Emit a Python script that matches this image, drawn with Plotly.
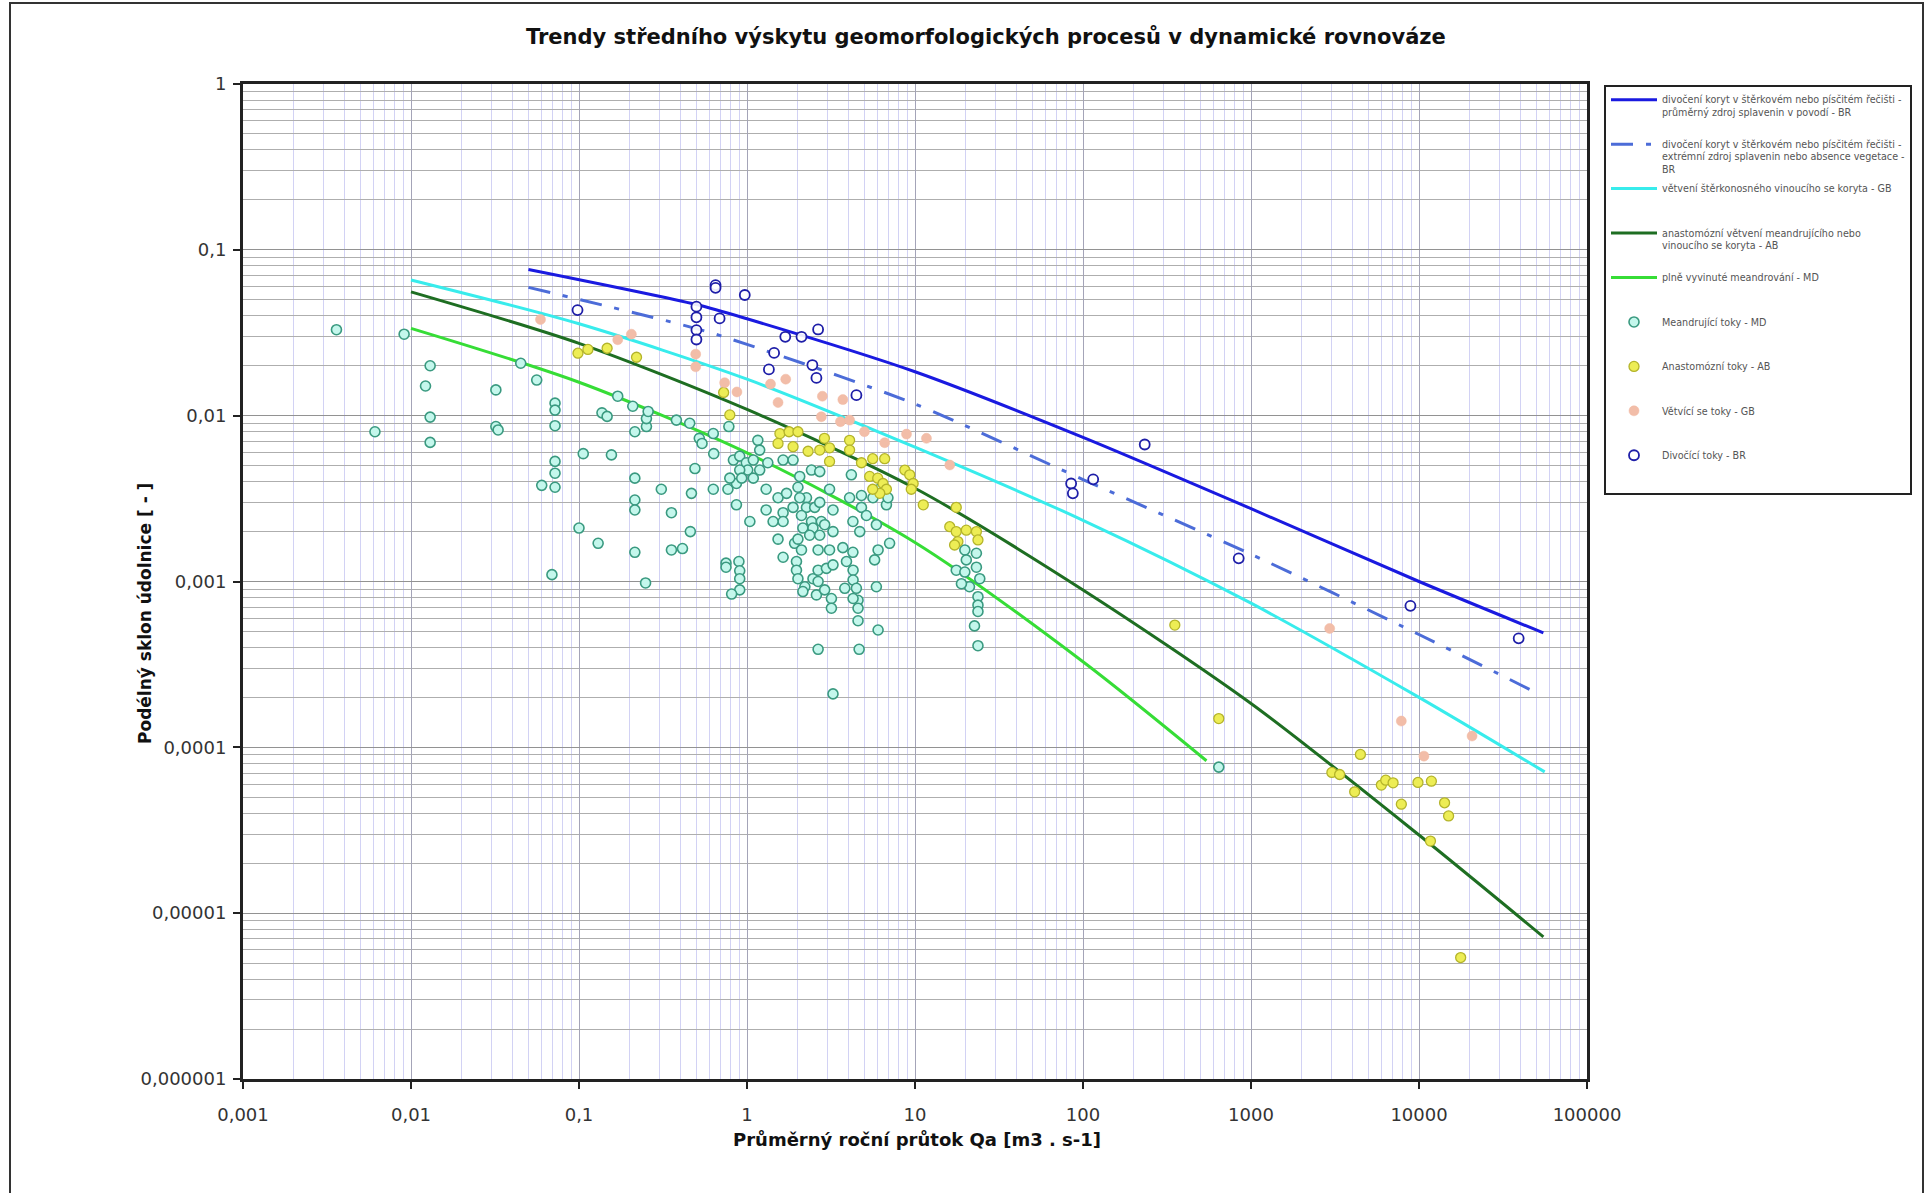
import plotly.graph_objects as go

# ---------------- data ----------------
# trend lines (Q [m3/s], S [-])
br_avg_q = [0.05, 0.5, 1, 10, 100, 1000, 10000, 55000]
br_avg_s = [0.0762, 0.0468, 0.0384, 0.0184, 0.0074, 0.00275, 0.0010, 0.00049]

br_ext_q = [0.05, 0.5, 1, 10, 100, 1000, 10000, 47000]
br_ext_s = [0.0594, 0.0335, 0.0269, 0.01175, 0.00412, 0.00146, 0.000479, 0.00022]

gb_q = [0.01, 0.1, 1, 10, 100, 1000, 10000, 56000]
gb_s = [0.0658, 0.0358, 0.0166, 0.00646, 0.00234, 0.00074, 0.00020, 0.0000711]

ab_q = [0.01, 0.1, 1, 10, 100, 1000, 10000, 55000]
ab_s = [0.0558, 0.0273, 0.0109, 0.00365, 0.00089, 0.000184, 0.0000296, 0.0000072]

md_q = [0.01, 0.1, 1, 10, 100, 543]
md_s = [0.0336, 0.0159, 0.00596, 0.00172, 0.000328, 0.000083]

# measured rivers
md_pts_q = [0.0036, 0.0091, 0.013, 0.0122, 0.013, 0.013, 0.0061, 0.032, 0.032, 0.033,
            0.045, 0.056, 0.072, 0.072, 0.072, 0.072, 0.072, 0.060, 0.072, 0.069,
            0.10, 0.13, 0.106, 0.156, 0.137, 0.147, 0.170, 0.209, 0.215, 0.215,
            0.215, 0.215, 0.215,
            0.38, 0.456, 0.52, 0.54, 0.63, 0.78, 0.634, 0.49, 0.467, 0.63,
            0.77, 0.865, 1.04, 0.46, 0.355, 0.413, 1.16, 1.19, 0.83, 0.905,
            0.99, 1.09, 1.19, 1.01, 0.905, 1.09, 0.865, 0.79, 0.93, 1.33,
            1.64, 1.88, 1.30, 1.53, 1.72, 1.88, 1.30, 1.64, 1.64, 1.43,
            1.53, 1.92, 1.64, 2.06, 2.42, 2.71, 2.01, 2.26, 2.06, 2.26,
            2.53, 2.71, 2.11, 2.42, 2.77, 2.15, 2.47, 2.9, 2.01, 2.36,
            2.71, 3.25, 3.1, 3.25, 4.08, 4.8, 4.8, 5.14, 4.27, 4.69,
            5.89, 6.76, 6.03, 7.06, 3.72, 4.27, 3.1, 2.65, 2.11, 0.252,
            0.252, 0.258, 0.309, 0.355, 4.18, 5.62, 6.3, 6.9,
            19.8, 23.2, 17.6, 19.8, 23.2, 24.3, 21.1, 18.9, 23.7, 23.7,
            23.7, 22.6, 23.7, 20.2, 0.75, 0.895, 0.905, 0.905, 0.905, 0.81,
            0.75, 1.97, 1.97, 2.01, 2.21, 2.15, 2.59, 2.47, 2.65, 2.9,
            3.18, 3.18, 2.65, 2.97, 3.25, 3.91, 4.28, 4.28, 3.82, 4.48,
            4.58, 4.58, 4.58, 4.28, 5.89, 6.03, 2.65, 4.65, 3.25, 5.75,
            0.249, 643]
md_pts_s = [0.033, 0.031, 0.020, 0.0151, 0.0098, 0.0069, 0.0080, 0.0143, 0.0086, 0.0082,
            0.0207, 0.0164, 0.0119, 0.0108, 0.0087, 0.0053, 0.0045, 0.0038, 0.0037, 0.0011,
            0.0021, 0.0017, 0.0059, 0.0058, 0.0104, 0.0099, 0.0131, 0.0114, 0.0080, 0.0042,
            0.0031, 0.0027, 0.0015,
            0.0094, 0.0090, 0.0073, 0.0068, 0.0078, 0.0086, 0.0059, 0.0048, 0.0034, 0.0036,
            0.0036, 0.0029, 0.0023, 0.0020, 0.00155, 0.00158, 0.0071, 0.0062, 0.0054, 0.0057,
            0.0052, 0.0054, 0.0047, 0.0047, 0.0047, 0.0042, 0.0039, 0.0042, 0.0042, 0.0052,
            0.0054, 0.0054, 0.0036, 0.0032, 0.0034, 0.0028, 0.0027, 0.0026, 0.0023, 0.0023,
            0.0018, 0.0017, 0.0014, 0.0043, 0.0047, 0.0046, 0.0037, 0.0032, 0.0032, 0.0028,
            0.0028, 0.0030, 0.0025, 0.0023, 0.0023, 0.0021, 0.0021, 0.0022, 0.0018, 0.0019,
            0.0019, 0.0020, 0.0036, 0.0027, 0.0032, 0.0033, 0.0028, 0.0025, 0.0023, 0.0020,
            0.0022, 0.0029, 0.00155, 0.0017, 0.0016, 0.0015, 0.00155, 0.00155, 0.00155, 0.0086,
            0.0096, 0.0106, 0.0036, 0.0026, 0.0044, 0.0032, 0.0037, 0.0032,
            0.00155, 0.00148, 0.00117, 0.00114, 0.00122, 0.00104, 0.00093, 0.00097, 0.00081, 0.00072,
            0.00066, 0.00054, 0.00041, 0.00135, 0.00129, 0.00132, 0.00116, 0.00104, 0.00089, 0.00084,
            0.00122, 0.00132, 0.00117, 0.00104, 0.00093, 0.00087, 0.00083, 0.00104, 0.00100, 0.00089,
            0.00079, 0.00069, 0.00117, 0.00120, 0.00126, 0.00132, 0.00117, 0.00102, 0.00091, 0.00091,
            0.00077, 0.00069, 0.00058, 0.00079, 0.00093, 0.00051, 0.00039, 0.00039, 0.00021, 0.00135,
            0.00098, 0.000076]

ab_pts_q = [0.0986, 0.113, 0.147, 0.22, 0.726, 0.79, 1.57, 1.78, 2.01, 1.53,
            1.88, 2.89, 3.1, 2.71, 2.31, 4.08, 4.08, 3.1, 4.8, 5.6,
            6.6, 5.37, 6.0, 6.45, 6.76, 6.17, 5.6, 8.7, 9.3, 9.75,
            9.5, 17.6, 11.2, 16.1, 17.6, 20.2, 23.2, 18.0, 23.7, 17.2,
            352, 643, 4480, 3030, 3370, 4140, 5970, 6340, 7010, 9860,
            11850, 7850, 14200, 15000, 11700, 17700]
ab_pts_s = [0.0238, 0.0251, 0.0255, 0.0225, 0.0138, 0.0101, 0.0078, 0.0080, 0.0080, 0.0068,
            0.0065, 0.0073, 0.0064, 0.0062, 0.0061, 0.0071, 0.0062, 0.0053, 0.0052, 0.0055,
            0.0055, 0.0043, 0.0042, 0.0039, 0.0036, 0.0034, 0.0036, 0.0047, 0.0044, 0.0039,
            0.0036, 0.0028, 0.0029, 0.00214, 0.0020, 0.00204, 0.0020, 0.00174, 0.00178, 0.00166,
            0.000546, 0.000149, 0.0000906, 0.0000706, 0.0000686, 0.0000539, 0.0000592, 0.0000634, 0.0000611, 0.0000614,
            0.0000625, 0.0000454, 0.0000463, 0.0000386, 0.0000272, 0.0000054]

gb_pts_q = [0.059, 0.17, 0.205, 0.495, 0.495, 0.736, 0.871, 1.38, 1.70, 1.53,
            2.81, 3.72, 2.77, 3.6, 4.08, 5.0, 6.6, 8.9, 11.7, 16.1,
            2940, 7850, 20700, 10700]
gb_pts_s = [0.038, 0.0287, 0.031, 0.0235, 0.0197, 0.0158, 0.0139, 0.0155, 0.0166, 0.0120,
            0.0131, 0.0125, 0.00985, 0.0092, 0.0094, 0.0080, 0.00687, 0.00774, 0.0073, 0.00504,
            0.000521, 0.000144, 0.000117, 0.0000885]

br_pts_q = [0.098, 0.65, 0.65, 0.97, 0.50, 0.50, 0.50, 0.50, 0.687, 1.69,
            2.11, 2.65, 1.45, 1.35, 2.45, 2.59, 4.48, 85, 87, 115,
            233, 845, 8890, 39200]
br_pts_s = [0.0433, 0.0613, 0.059, 0.0534, 0.0454, 0.0392, 0.0328, 0.0288, 0.0386, 0.0299,
            0.0299, 0.0331, 0.0239, 0.0190, 0.0202, 0.0169, 0.0133, 0.0039, 0.0034, 0.00413,
            0.0067, 0.00138, 0.000713, 0.000454]

x_tick_vals = [0.001, 0.01, 0.1, 1, 10, 100, 1000, 10000, 100000]
x_tick_text = ["0,001", "0,01", "0,1", "1", "10", "100", "1000", "10000", "100000"]
y_tick_vals = [1, 0.1, 0.01, 0.001, 0.0001, 0.00001, 0.000001]
y_tick_text = ["1", "0,1", "0,01", "0,001", "0,0001", "0,00001", "0,000001"]

names = [
    "divočení koryt v štěrkovém nebo písčitém řečišti -<br>průměrný zdroj splavenin v povodí - BR<br> ",
    "divočení koryt v štěrkovém nebo písčitém řečišti -<br>extrémní zdroj splavenin nebo absence vegetace -<br>BR",
    "větvení štěrkonosného vinoucího se koryta - GB<br> <br> ",
    "anastomózní větvení meandrujícího nebo<br>vinoucího se koryta - AB<br> ",
    "plně vyvinuté meandrování - MD<br> <br> ",
    "Meandrující toky - MD<br> <br> ",
    "Anastomózní toky - AB<br> <br> ",
    "Větvící se toky - GB<br> <br> ",
    "Divočící toky - BR<br> <br> ",
]

# ---------------- figure ----------------
fig = go.Figure()

lines = [
    (br_avg_q, br_avg_s, "#1A1AE0", "solid"),
    (br_ext_q, br_ext_s, "#4C6CD8", "22px,13px,5px,13px"),
    (gb_q, gb_s, "#38ECEC", "solid"),
    (ab_q, ab_s, "#1E6E22", "solid"),
    (md_q, md_s, "#36DD36", "solid"),
]
for i, (q, s, c, d) in enumerate(lines):
    fig.add_trace(go.Scatter(x=q, y=s, mode="lines", name=names[i], legendgroup=f"g{i}",
                             line=dict(color=c, width=3, dash=d, shape="spline", smoothing=0.8)))

fig.add_trace(go.Scatter(x=md_pts_q, y=md_pts_s, mode="markers", name=names[5], legendgroup="g5",
                         marker=dict(symbol="circle", size=10, color="#C4F7EC",
                                     line=dict(color="#3A9A80", width=1.6))))
fig.add_trace(go.Scatter(x=ab_pts_q, y=ab_pts_s, mode="markers", name=names[6], legendgroup="g6",
                         marker=dict(symbol="circle", size=10, color="#EDED55",
                                     line=dict(color="#B4B42A", width=1.3))))
fig.add_trace(go.Scatter(x=gb_pts_q, y=gb_pts_s, mode="markers", name=names[7], legendgroup="g7",
                         marker=dict(symbol="circle", size=10, color="#F2BDA8",
                                     line=dict(color="#F0B8A2", width=0.5))))
fig.add_trace(go.Scatter(x=br_pts_q, y=br_pts_s, mode="markers", name=names[8], legendgroup="g8",
                         marker=dict(symbol="circle", size=10, color="rgba(255,255,255,0.9)",
                                     line=dict(color="#1E1EA8", width=1.8))))

x_minor = [m * 10 ** e for e in range(-3, 5) for m in range(2, 10)]
y_minor = [m * 10 ** e for e in range(-6, 0) for m in range(2, 10)]

tick_font = dict(family="DejaVu Sans", size=18, color="#333333")

fig.update_xaxes(type="log", range=[-3, 5], tickmode="array", tickvals=x_tick_vals,
                 ticktext=x_tick_text, showgrid=True, gridcolor="#A4A4B8", gridwidth=1,
                 minor=dict(tickmode="array", tickvals=x_minor, showgrid=True,
                            gridcolor="#D2D2F4", gridwidth=1, ticks=""),
                 showline=True, linecolor="#222222", linewidth=3, mirror=True,
                 ticks="outside", ticklen=7, tickwidth=1.5, tickcolor="#222222",
                 tickfont=tick_font, ticklabelstandoff=10, zeroline=False)
fig.update_yaxes(type="log", range=[-6, 0], tickmode="array", tickvals=y_tick_vals,
                 ticktext=y_tick_text, showgrid=True, gridcolor="#929292", gridwidth=1,
                 minor=dict(tickmode="array", tickvals=y_minor, showgrid=True,
                            gridcolor="#AEAEAE", gridwidth=1, ticks=""),
                 showline=True, linecolor="#222222", linewidth=3, mirror=True,
                 ticks="outside", ticklen=7, tickwidth=1.5, tickcolor="#222222",
                 tickfont=tick_font, ticklabelstandoff=3, zeroline=False)

L, R, T, B = 243, 340, 84, 114
W, H = 1927, 1193
pw, ph = W - L - R, H - T - B


def px(xp):
    return (xp - L) / pw


def py(yp):
    return (H - B - yp) / ph


fig.update_layout(
    width=W, height=H, autosize=False,
    margin=dict(l=L, r=R, t=T, b=B, pad=0, autoexpand=False),
    paper_bgcolor="white", plot_bgcolor="white",
    font=dict(family="Liberation Sans", color="#222222"),
    showlegend=True,
    legend=dict(x=px(1604), y=py(85), xanchor="left", yanchor="top",
                bordercolor="#222222", borderwidth=2, bgcolor="white",
                font=dict(family="DejaVu Sans", size=9.6, color="#555555"),
                itemwidth=46, valign="top", tracegroupgap=4, traceorder="grouped"),
    annotations=[
        dict(text="<b>Trendy středního výskytu geomorfologických procesů v dynamické rovnováze</b>",
             x=px(986), y=py(37), xref="paper", yref="paper", showarrow=False,
             xanchor="center", yanchor="middle",
             font=dict(family="DejaVu Sans", size=21, color="#111111")),
        dict(text="<b>Podélný sklon údolnice [ - ]</b>", textangle=-90,
             x=px(145), y=py(614), xref="paper", yref="paper", showarrow=False,
             xanchor="center", yanchor="middle",
             font=dict(family="DejaVu Sans", size=17, color="#111111")),
        dict(text="<b>Průměrný roční průtok Qa [m3 . s-1]</b>",
             x=px(917), y=py(1139), xref="paper", yref="paper", showarrow=False,
             xanchor="center", yanchor="middle",
             font=dict(family="DejaVu Sans", size=18, color="#111111")),
    ],
    shapes=[
        dict(type="rect", xref="paper", yref="paper", x0=px(10), x1=px(1923),
             y0=py(1205), y1=py(3), line=dict(color="#333333", width=2), fillcolor="rgba(0,0,0,0)",
             layer="below"),
    ],
)

fig.write_html("out.html", config={"displayModeBar": False},
               post_script="document.body.style.margin='0';")
